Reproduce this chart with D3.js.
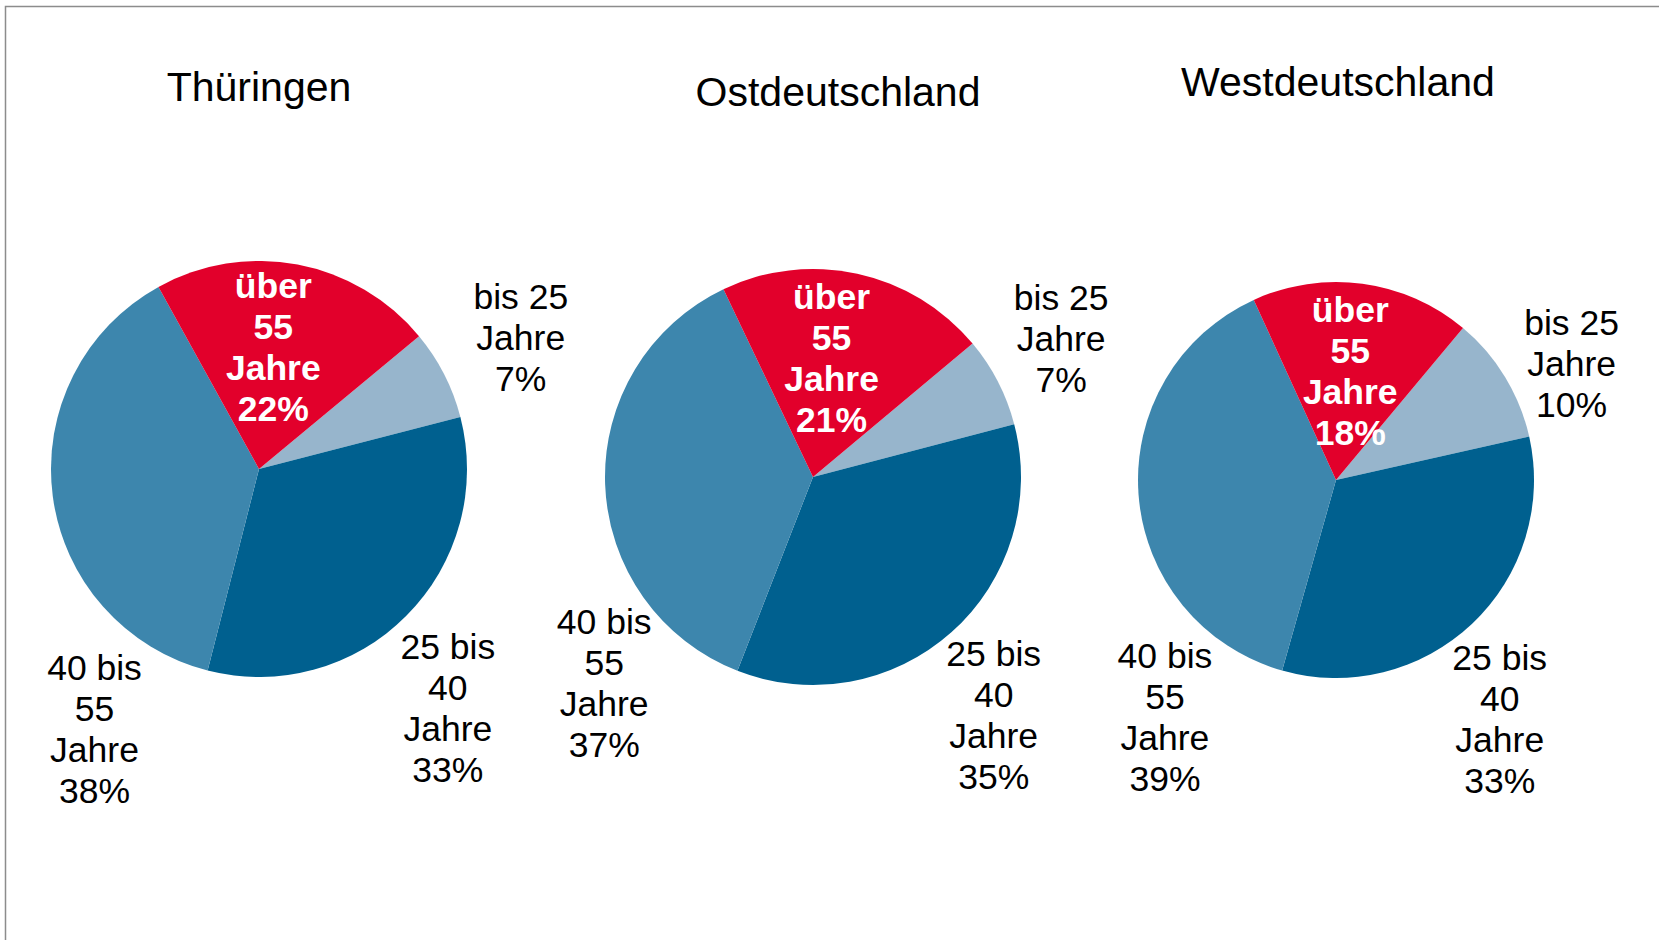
<!DOCTYPE html>
<html>
<head>
<meta charset="utf-8">
<script src="https://cdn.jsdelivr.net/npm/d3@7"></script>
<style>
  html, body { margin: 0; padding: 0; background: #fff; }
  svg { display: block; font-family: 'Liberation Sans', Arial, sans-serif; }
</style>
</head>
<body>
<div id="chart"></div>
<script>
// data
const regions = ['Thüringen', 'Ostdeutschland', 'Westdeutschland']
const categories = ['bis 25 Jahre', '25 bis 40 Jahre', '40 bis 55 Jahre', 'über 55 Jahre']
const labelLines = [['bis 25', 'Jahre'], ['25 bis', '40', 'Jahre'], ['40 bis', '55', 'Jahre'], ['über', '55', 'Jahre']]
const thueringen = [7, 33, 38, 22]
const ostdeutschland = [7, 35, 37, 21]
const westdeutschland = [10.4, 32.9, 38.8, 17.9]
const series = [thueringen, ostdeutschland, westdeutschland]

// layout
const fullWidth = 1659, fullHeight = 940
const colors = ['#97b5cc', '#00608f', '#3d86ad', '#e2002b']
const pies = [
  { cx: 259, cy: 469, r: 208, start: 50.3, titleX: 259, titleY: 101 },
  { cx: 813, cy: 477, r: 208, start: 50.1, titleX: 838, titleY: 106 },
  { cx: 1336, cy: 480, r: 198, start: 39.9, titleX: 1338, titleY: 96 }
]
// label anchor per slice: [angle in degrees, distance as share of radius]
const labelPos = [
  [[63.2, 1.41], [141.7, 1.465], [212.3, 1.48], [6.7, 0.59]],
  [[60.8, 1.367], [142.8, 1.437], [225.4, 1.41], [8.8, 0.582]],
  [[63.7, 1.327], [145.5, 1.46], [215.8, 1.477], [7.4, 0.558]]
]
const fontSize = 35.5, lineHeight = 41

const svg = d3.select('#chart')
  .append('svg')
    .attr('width', fullWidth)
    .attr('height', fullHeight)

// frame
svg.append('path')
  .attr('d', `M5.5,${fullHeight} V6.5 H${fullWidth}`)
  .style('fill', 'none')
  .style('stroke', '#8c8c8c')
  .style('stroke-width', 1.5)

const rad = deg => deg * Math.PI / 180

series.forEach((values, i) => {
  const p = pies[i]
  const g = svg.append('g')
    .attr('transform', `translate(${p.cx}, ${p.cy})`)

  const pie = d3.pie()
    .sort(null)
    .startAngle(rad(p.start))
    .endAngle(rad(p.start) + 2 * Math.PI)

  const arc = d3.arc()
    .innerRadius(0)
    .outerRadius(p.r)

  g.selectAll('.slice')
    .data(pie(values))
    .enter()
    .append('path')
    .attr('class', 'slice')
    .attr('d', arc)
    .style('fill', (d, j) => colors[j])

  svg.append('text')
    .attr('x', p.titleX)
    .attr('y', p.titleY)
    .attr('text-anchor', 'middle')
    .style('font-size', '41px')
    .text(regions[i])

  values.forEach((v, j) => {
    const [ang, k] = labelPos[i][j]
    const lx = Math.sin(rad(ang)) * p.r * k
    const ly = -Math.cos(rad(ang)) * p.r * k
    const lines = labelLines[j].concat([Math.round(v) + '%'])
    const inside = j === 3
    const t = g.append('text')
      .attr('text-anchor', 'middle')
      .style('font-size', fontSize + 'px')
      .style('font-weight', inside ? 'bold' : 'normal')
      .style('fill', inside ? '#fff' : '#000')
    lines.forEach((line, n) => {
      t.append('tspan')
        .attr('x', lx)
        .attr('y', ly + (n - (lines.length - 1) / 2) * lineHeight + fontSize * 0.36)
        .text(line)
    })
  })
})
</script>
</body>
</html>
